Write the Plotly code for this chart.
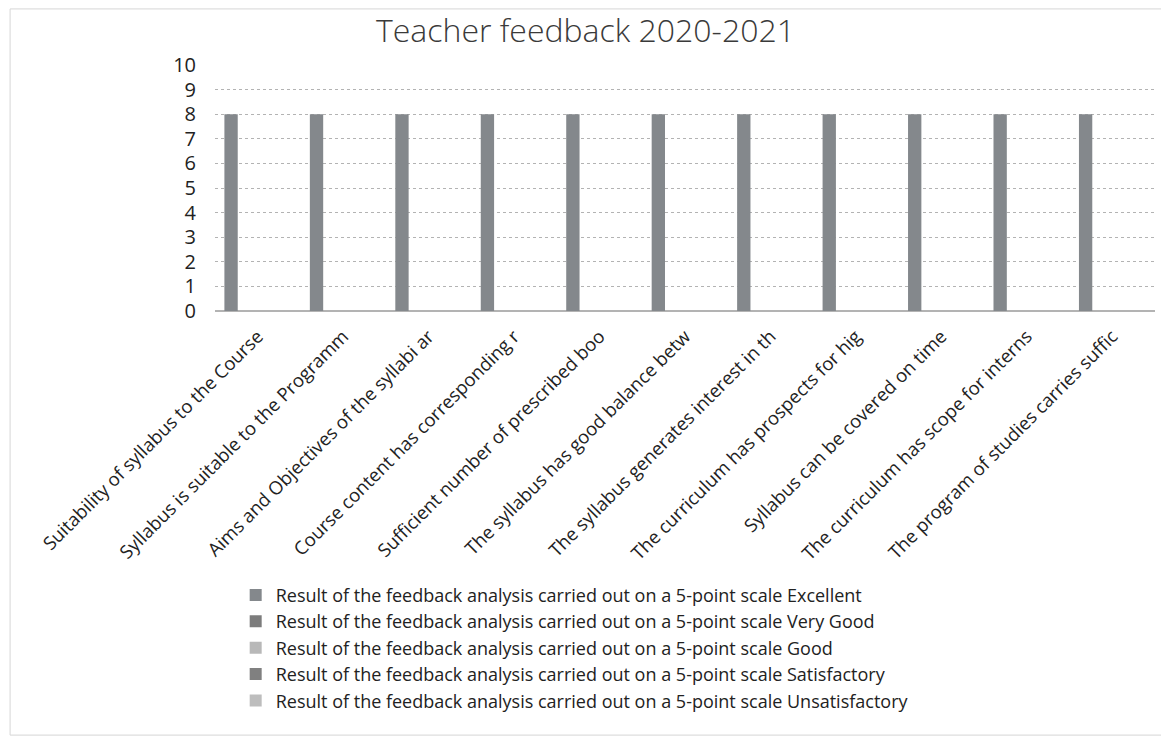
import plotly.graph_objects as go

QUESTIONS = [
    "Suitability of syllabus to the Course",
    "Syllabus is suitable to the Programm",
    "Aims and Objectives of the syllabi ar",
    "Course content has corresponding r",
    "Sufficient number of prescribed boo",
    "The syllabus has good balance betw",
    "The syllabus generates interest in th",
    "The curriculum has prospects for hig",
    "Syllabus can be covered on time",
    "The curriculum has scope for interns",
    "The program of studies carries suffic",
]

PREFIX = "Result of the feedback analysis carried out on a 5-point scale "
RATINGS = ["Excellent", "Very Good", "Good", "Satisfactory", "Unsatisfactory"]

excellent = [8, 8, 8, 8, 8, 8, 8, 8, 8, 8, 8]
very_good = [0, 0, 0, 0, 0, 0, 0, 0, 0, 0, 0]
good = [0, 0, 0, 0, 0, 0, 0, 0, 0, 0, 0]
satisfactory = [0, 0, 0, 0, 0, 0, 0, 0, 0, 0, 0]
unsatisfactory = [0, 0, 0, 0, 0, 0, 0, 0, 0, 0, 0]

SERIES = [excellent, very_good, good, satisfactory, unsatisfactory]
COLORS = ["#84888c", "#7c7c7c", "#b8b8b8", "#808080", "#bdbdbd"]

FONT = "'Open Sans', sans-serif"

fig = go.Figure()
for rating, values, color in zip(RATINGS, SERIES, COLORS):
    fig.add_trace(
        go.Bar(
            x=QUESTIONS,
            y=values,
            name=PREFIX + rating,
            marker=dict(color=color, line=dict(width=0)),
        )
    )

# clustered columns: only the "Excellent" series carries values
fig.update_layout(
    barmode="group",
    bargap=0.22,
    bargroupgap=0,
    width=1169,
    height=743,
    paper_bgcolor="white",
    plot_bgcolor="white",
    font=dict(family=FONT, color="#222222"),
    title=dict(
        text="Teacher feedback 2020-2021",
        x=0.494,
        xanchor="center",
        y=0.97,
        yanchor="middle",
        font=dict(size=32, color="#3a3a3a", weight=300),
    ),
    margin=dict(l=207, r=22, t=57, b=440),
    showlegend=True,
    legend=dict(
        orientation="v",
        traceorder="normal",
        x=0.022,
        xanchor="left",
        y=-1.08,
        yanchor="top",
        font=dict(size=18, color="#222222"),
        itemwidth=30,
        bgcolor="rgba(0,0,0,0)",
    ),
    shapes=[
        dict(
            type="rect",
            xref="paper",
            yref="paper",
            x0=-0.218,
            x1=1.012,
            y0=-1.724,
            y1=1.228,
            line=dict(color="#d6d6d6", width=1),
        )
    ],
)

fig.update_xaxes(
    tickangle=-45,
    tickfont=dict(size=18.5, color="#222222"),
    ticklabelstandoff=10,
    showgrid=False,
    showline=False,
    ticks="",
)
fig.update_yaxes(
    range=[0, 10],
    dtick=1,
    tickfont=dict(size=20, color="#222222"),
    showgrid=True,
    gridcolor="#b3b3b3",
    griddash="dot",
    zeroline=True,
    zerolinecolor="#b3b3b3",
    showline=False,
    ticks="outside",
    ticklen=14,
    tickcolor="rgba(0,0,0,0)",
)

fig.write_html("out.html")
